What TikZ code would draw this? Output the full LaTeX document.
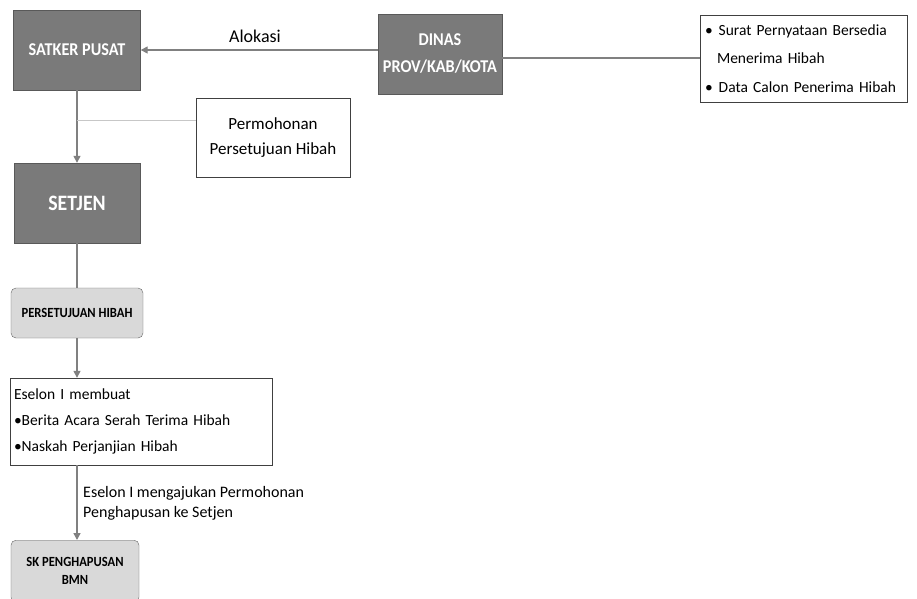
\documentclass[tikz,border=0pt]{standalone}
\usepackage{fontspec}
\setmainfont{Carlito}
\newfontfamily\narrowfont[FakeStretch=0.9]{Carlito}
\usetikzlibrary{arrows.meta}
\begin{document}
\begin{tikzpicture}[x=1pt,y=-1pt,
  darkbox/.style={draw=gray!70!black, fill=black!52, text=white, font=\narrowfont\bfseries\fontsize{18}{27}\selectfont, align=center, inner sep=0pt},
  lightbox/.style={draw=gray!80!black, fill=black!15, rounded corners=5pt, text=black, font=\narrowfont\bfseries\fontsize{14}{19}\selectfont, align=center, inner sep=0pt},
  whitebox/.style={draw=black!75, fill=white, inner sep=0pt},
  conn/.style={draw=black!50, line width=1.4pt},
  arr/.style={conn, -{Triangle[length=7pt,width=7pt]}},
  lbl/.style={align=left, inner sep=0pt}
]
\useasboundingbox (0,0) rectangle (917,598);
\fill[white] (0,0) rectangle (917,598);

\node[darkbox, minimum width=127pt, minimum height=80pt] (satker) at (77,50) {SATKER PUSAT};
\node[darkbox, minimum width=124pt, minimum height=80pt] (dinas) at (440,54) {DINAS\\PROV/KAB/KOTA};
\node[whitebox, minimum width=207pt, minimum height=87pt, text width=197pt, align=left, font=\fontsize{15.5}{28.5}\selectfont] (syarat) at (803.5,58.5)
  {\textbullet\hspace{6pt}Surat Pernyataan Bersedia\\\hspace{12pt}Menerima Hibah\\\textbullet\hspace{6pt}Data Calon Penerima Hibah};
\node[whitebox, minimum width=154pt, minimum height=79pt, align=center, font=\fontsize{17}{25}\selectfont] (mohon) at (273,137.5) {Permohonan\\Persetujuan Hibah};
\node[darkbox, minimum width=126pt, minimum height=80pt, font=\narrowfont\bfseries\fontsize{22}{26}\selectfont] (setjen) at (77,203) {SETJEN};
\node[lightbox, minimum width=132pt, minimum height=50pt] (setuju) at (77,313) {PERSETUJUAN HIBAH};
\node[whitebox, minimum width=262pt, minimum height=87pt, text width=254pt, align=left, font=\fontsize{15.5}{26}\selectfont] (eselon) at (141,421.5)
  {Eselon I membuat\\\textbullet Berita Acara Serah Terima Hibah\\\textbullet Naskah Perjanjian Hibah};
\node[lightbox, minimum width=128pt, minimum height=62pt, anchor=north, font=\narrowfont\bfseries\fontsize{14}{18}\selectfont] (sk) at (75,540) {SK PENGHAPUSAN\\BMN};

\draw[arr] (dinas.west |- 0,50) -- (satker.east);
\node[lbl, font=\fontsize{18}{20}\selectfont] (alok) at (255,36) {Alokasi};
\draw[conn] (dinas.east |- 0,58) -- (syarat.west |- 0,58);
\draw[arr] (satker.south) -- (setjen.north);
\coordinate (tap) at (77,120);
\draw[draw=black!22, line width=1pt] (mohon.west |- tap) -- (tap);
\draw[conn] (setjen.south) -- (setuju.north);
\draw[arr] (setuju.south) -- (eselon.north -| setuju.south);
\draw[arr] (eselon.south -| setuju.south) -- (sk.north -| setuju.south);
\node[lbl, anchor=west, font=\fontsize{16}{20}\selectfont] (lab2) at (83,503) {Eselon I mengajukan Permohonan\\Penghapusan ke Setjen};
\end{tikzpicture}
\end{document}
